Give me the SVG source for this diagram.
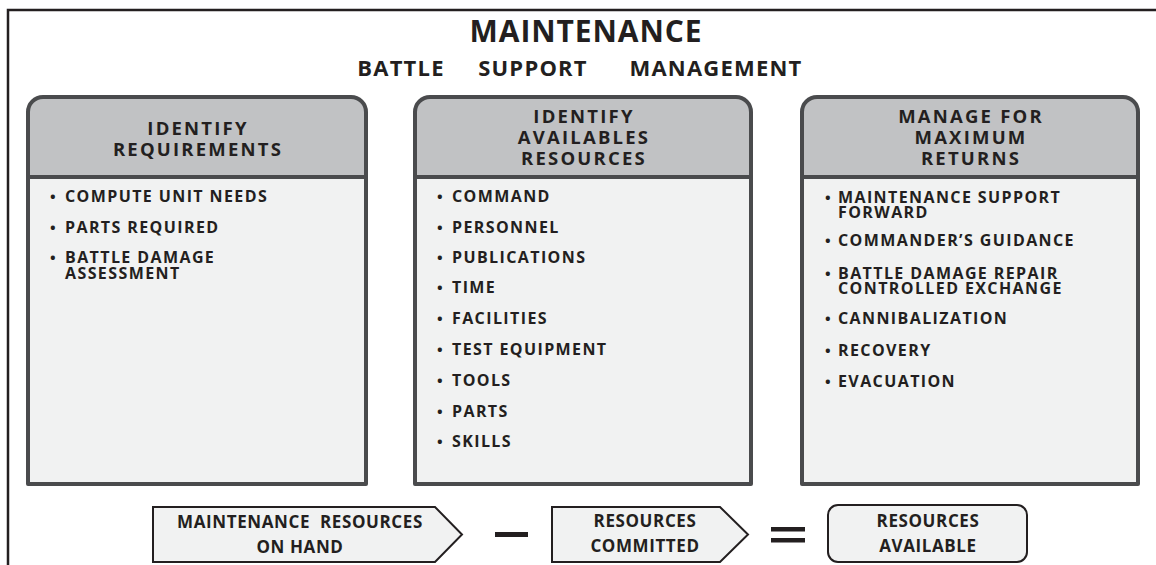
<svg xmlns="http://www.w3.org/2000/svg" width="1156" height="565" viewBox="0 0 1156 565">
<style>
.frame{fill:none;stroke:#231f20;stroke-width:2.5}
.body{fill:#f1f2f2}
.head{fill:#c1c2c4}
.outline{fill:none;stroke:#4a4b4d;stroke-width:4;stroke-linejoin:round}
.div{stroke:#4a4b4d;stroke-width:4}
text{font-family:"Open Sans","Liberation Sans",sans-serif;font-weight:700;fill:#231f20}
.title{font-size:30px;letter-spacing:0.9px;text-anchor:middle}
.sub{font-size:22px;letter-spacing:1.2px;text-anchor:middle}
.hd{font-size:18.5px;letter-spacing:2.2px;text-anchor:middle}
.it{font-size:16px;letter-spacing:1.4px}
.bl{font-size:15px;letter-spacing:0}
.bt{font-size:17px;letter-spacing:0.6px;text-anchor:middle}
.shape{fill:#f1f2f2;stroke:#231f20;stroke-width:2}
.op{fill:#231f20}
</style>
<path class="frame" d="M8,565 V10 H1156"/>
<g id="title">
<text class="title" x="586" y="42">MAINTENANCE</text>
<text class="sub" x="401" y="76">BATTLE</text>
<text class="sub" x="533" y="76">SUPPORT</text>
<text class="sub" x="716" y="76">MANAGEMENT</text>
</g>
<g id="box-requirements">
<rect class="body" x="28" y="177" width="338" height="307"/>
<path class="head" d="M28,177 V112 A15,15 0 0 1 43,97 H351 A15,15 0 0 1 366,112 V177 Z"/>
<path class="outline" d="M28,484 V112 A15,15 0 0 1 43,97 H351 A15,15 0 0 1 366,112 V484 Z"/>
<line class="div" x1="28" y1="177" x2="366" y2="177"/>
<text class="hd" x="198" y="135">IDENTIFY<tspan x="198" dy="21">REQUIREMENTS</tspan></text>
<text class="it" y="202"><tspan class="bl" x="50">•</tspan><tspan x="65">COMPUTE UNIT NEEDS</tspan></text>
<text class="it" y="233"><tspan class="bl" x="50">•</tspan><tspan x="65">PARTS REQUIRED</tspan></text>
<text class="it" y="263"><tspan class="bl" x="50">•</tspan><tspan x="65">BATTLE DAMAGE</tspan><tspan x="65" dy="16">ASSESSMENT</tspan></text>
</g>
<g id="box-resources">
<rect class="body" x="415" y="177" width="336" height="307"/>
<path class="head" d="M415,177 V112 A15,15 0 0 1 430,97 H736 A15,15 0 0 1 751,112 V177 Z"/>
<path class="outline" d="M415,484 V112 A15,15 0 0 1 430,97 H736 A15,15 0 0 1 751,112 V484 Z"/>
<line class="div" x1="415" y1="177" x2="751" y2="177"/>
<text class="hd" x="584" y="123">IDENTIFY<tspan x="584" dy="21">AVAILABLES</tspan><tspan x="584" dy="21">RESOURCES</tspan></text>
<text class="it" y="202"><tspan class="bl" x="437">•</tspan><tspan x="452">COMMAND</tspan></text>
<text class="it" y="233"><tspan class="bl" x="437">•</tspan><tspan x="452">PERSONNEL</tspan></text>
<text class="it" y="263"><tspan class="bl" x="437">•</tspan><tspan x="452">PUBLICATIONS</tspan></text>
<text class="it" y="293"><tspan class="bl" x="437">•</tspan><tspan x="452">TIME</tspan></text>
<text class="it" y="324"><tspan class="bl" x="437">•</tspan><tspan x="452">FACILITIES</tspan></text>
<text class="it" y="355"><tspan class="bl" x="437">•</tspan><tspan x="452">TEST EQUIPMENT</tspan></text>
<text class="it" y="386"><tspan class="bl" x="437">•</tspan><tspan x="452">TOOLS</tspan></text>
<text class="it" y="417"><tspan class="bl" x="437">•</tspan><tspan x="452">PARTS</tspan></text>
<text class="it" y="447"><tspan class="bl" x="437">•</tspan><tspan x="452">SKILLS</tspan></text>
</g>
<g id="box-manage">
<rect class="body" x="802" y="177" width="336" height="307"/>
<path class="head" d="M802,177 V112 A15,15 0 0 1 817,97 H1123 A15,15 0 0 1 1138,112 V177 Z"/>
<path class="outline" d="M802,484 V112 A15,15 0 0 1 817,97 H1123 A15,15 0 0 1 1138,112 V484 Z"/>
<line class="div" x1="802" y1="177" x2="1138" y2="177"/>
<text class="hd" x="971" y="123">MANAGE FOR<tspan x="971" dy="21">MAXIMUM</tspan><tspan x="971" dy="21">RETURNS</tspan></text>
<text class="it" y="203"><tspan class="bl" x="825">•</tspan><tspan x="838">MAINTENANCE SUPPORT</tspan><tspan x="838" dy="15">FORWARD</tspan></text>
<text class="it" y="246"><tspan class="bl" x="825">•</tspan><tspan x="838">COMMANDER’S GUIDANCE</tspan></text>
<text class="it" y="279"><tspan class="bl" x="825">•</tspan><tspan x="838">BATTLE DAMAGE REPAIR</tspan><tspan x="838" dy="15">CONTROLLED EXCHANGE</tspan></text>
<text class="it" y="324"><tspan class="bl" x="825">•</tspan><tspan x="838">CANNIBALIZATION</tspan></text>
<text class="it" y="356"><tspan class="bl" x="825">•</tspan><tspan x="838">RECOVERY</tspan></text>
<text class="it" y="387"><tspan class="bl" x="825">•</tspan><tspan x="838">EVACUATION</tspan></text>
</g>
<g id="node-on-hand">
<polygon class="shape" points="153,507 435,507 462,534.5 435,562 153,562"/>
<text class="bt" x="300" y="528" xml:space="preserve">MAINTENANCE  RESOURCES<tspan x="300" dy="25">ON HAND</tspan></text>
</g>
<g id="node-committed">
<polygon class="shape" points="552,507 720,507 748,534.5 720,562 552,562"/>
<text class="bt" x="645" y="527">RESOURCES<tspan x="645" dy="25">COMMITTED</tspan></text>
</g>
<g id="node-available">
<rect class="shape" x="828" y="505" width="199" height="57" rx="10"/>
<text class="bt" x="928" y="527">RESOURCES<tspan x="928" dy="25">AVAILABLE</tspan></text>
</g>
<g id="connectors">
<rect class="op" x="495" y="532" width="33" height="5"/>
<rect class="op" x="771" y="527" width="34" height="4.5"/>
<rect class="op" x="771" y="538" width="34" height="4.5"/>
</g>
</svg>
